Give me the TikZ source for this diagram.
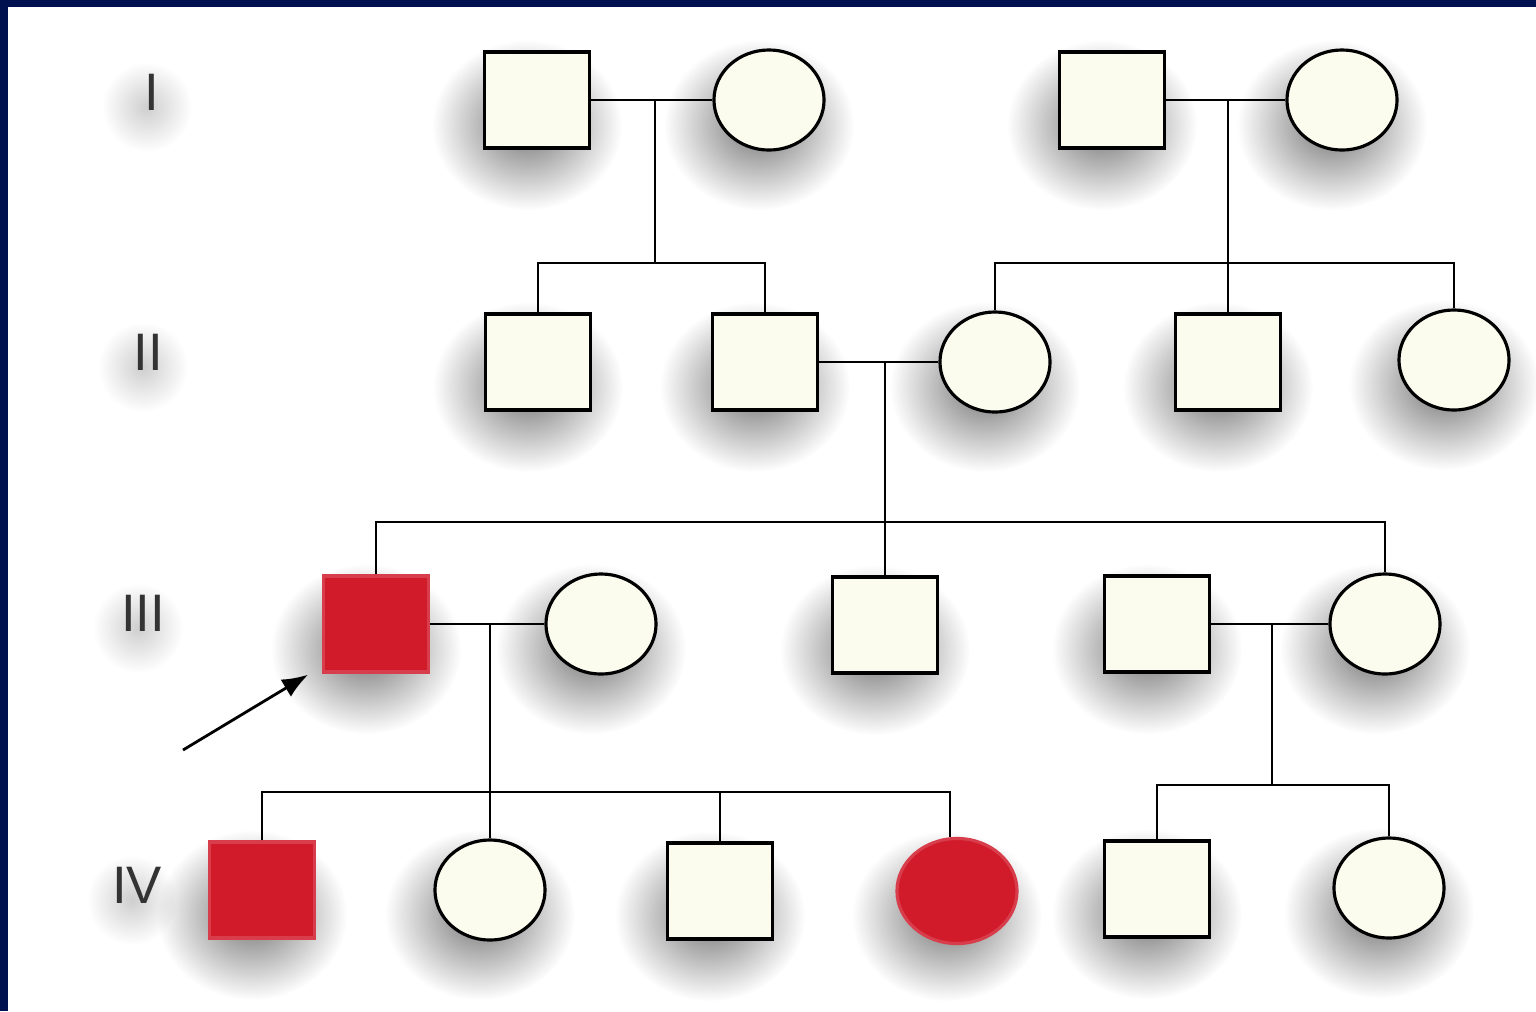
\documentclass[tikz,border=0pt]{standalone}
\usepackage{fontspec}
\setmainfont{Liberation Sans}
\usetikzlibrary{shapes.geometric,fadings,backgrounds,arrows.meta}

\definecolor{cadre}{HTML}{001150}
\definecolor{ivoire}{HTML}{FBFCEE}
\definecolor{atteint}{HTML}{D11B2B}

\tikzfading[name=halo,inner color=transparent!45,outer color=transparent!100]

\begin{document}
\begin{tikzpicture}[x=0.01cm,y=-0.01cm,line width=0.7pt,
  male/.style={draw,line width=0.9pt,fill=ivoire,minimum width=1.05cm,
    minimum height=0.96cm,inner sep=0pt},
  female/.style={ellipse,draw,line width=0.9pt,fill=ivoire,minimum width=1.1cm,
    minimum height=1.0cm,inner sep=0pt},
  malade/.style={fill=atteint,draw=atteint!85!white},
  ombre/.style={black,path fading=halo},
  gen/.style={text=black!80,font=\fontsize{15}{15}\selectfont}]

\useasboundingbox (0,0) rectangle (1536,1011);

% Fond
\begin{scope}[on background layer]
\fill[cadre] (0,0) rectangle (1536,1011);
\fill[white] (8,7) rectangle (1536,1011);
\end{scope}

% Generations
\node[gen] (gI) at (152,92) {I};
\node[gen] (gII) at (148,352) {II};
\node[gen] (gIII) at (143,613) {III};
\node[gen] (gIV) at (137,885) {IV};

% Generation I
\node[male] (I1) at (537,100) {};
\node[female] (I2) at (769,100) {};
\node[male] (I3) at (1112,100) {};
\node[female] (I4) at (1342,100) {};

% Generation II
\node[male] (II1) at (538,362) {};
\node[male] (II2) at (765,362) {};
\node[female] (II3) at (995,362) {};
\node[male] (II4) at (1228,362) {};
\node[female] (II5) at (1454,360) {};

% Generation III
\node[male,malade] (III1) at (376,624) {};
\node[female] (III2) at (601,624) {};
\node[male] (III3) at (885,625) {};
\node[male] (III4) at (1157,624) {};
\node[female] (III5) at (1385,624) {};

% Generation IV
\node[male,malade] (IV1) at (262,890) {};
\node[female] (IV2) at (490,890) {};
\node[male] (IV3) at (720,891) {};
\node[female,malade,minimum width=1.2cm,minimum height=1.05cm] (IV4) at (957,891) {};
\node[male] (IV5) at (1157,889) {};
\node[female] (IV6) at (1389,888) {};

% Ombres
\begin{scope}[on background layer]
\foreach \n in {gI,gII,gIII,gIV}
  \fill[ombre,opacity=0.35] ([shift={(-5,15)}]\n.center) ellipse (0.45cm and 0.45cm);
\foreach \n in {I1,I2,I3,I4,II1,II2,II3,II4,II5,III1,III2,III3,III4,III5,
                IV1,IV2,IV3,IV4,IV5,IV6}
  \fill[ombre] ([shift={(-10,25)}]\n.center) ellipse (0.95cm and 0.85cm);
\end{scope}

% Unions et fratries
\coordinate (m1) at (655,100);
\coordinate (s1) at (655,263);
\draw (I1.east) -- (I2.west);
\draw (m1) -- (s1);
\draw (II1.north) |- (s1) -| (II2.north);

\coordinate (m2) at (1228,100);
\coordinate (s2) at (1228,263);
\draw (I3.east) -- (I4.west);
\draw (m2) -- (II4.north);
\draw (II3.north) |- (s2) -| (II5.north);

\coordinate (m3) at (885,362);
\coordinate (s3) at (885,522);
\draw (II2.east) -- (II3.west);
\draw (m3) -- (III3.north);
\draw (III1.north) |- (s3) -| (III5.north);

\coordinate (m4) at (490,624);
\coordinate (s4) at (490,792);
\draw (III1.east) -- (III2.west);
\draw (m4) -- (IV2.north);
\draw (IV1.north) |- (s4) -| ([xshift=-0.07cm]IV4.north);
\draw (IV3.north) -- (IV3.north |- s4);

\coordinate (m5) at (1272,624);
\coordinate (s5) at (1272,785);
\draw (III4.east) -- (III5.west);
\draw (m5) -- (s5);
\draw (IV5.north) |- (s5) -| (IV6.north);

% Proposant
\coordinate (prop) at (183,750);
\draw[-{Latex[length=0.26cm,width=0.2cm]},line width=0.8pt,shorten >=0.02cm]
  (prop) -- ([xshift=-0.12cm]III1.south west);

\end{tikzpicture}
\end{document}
